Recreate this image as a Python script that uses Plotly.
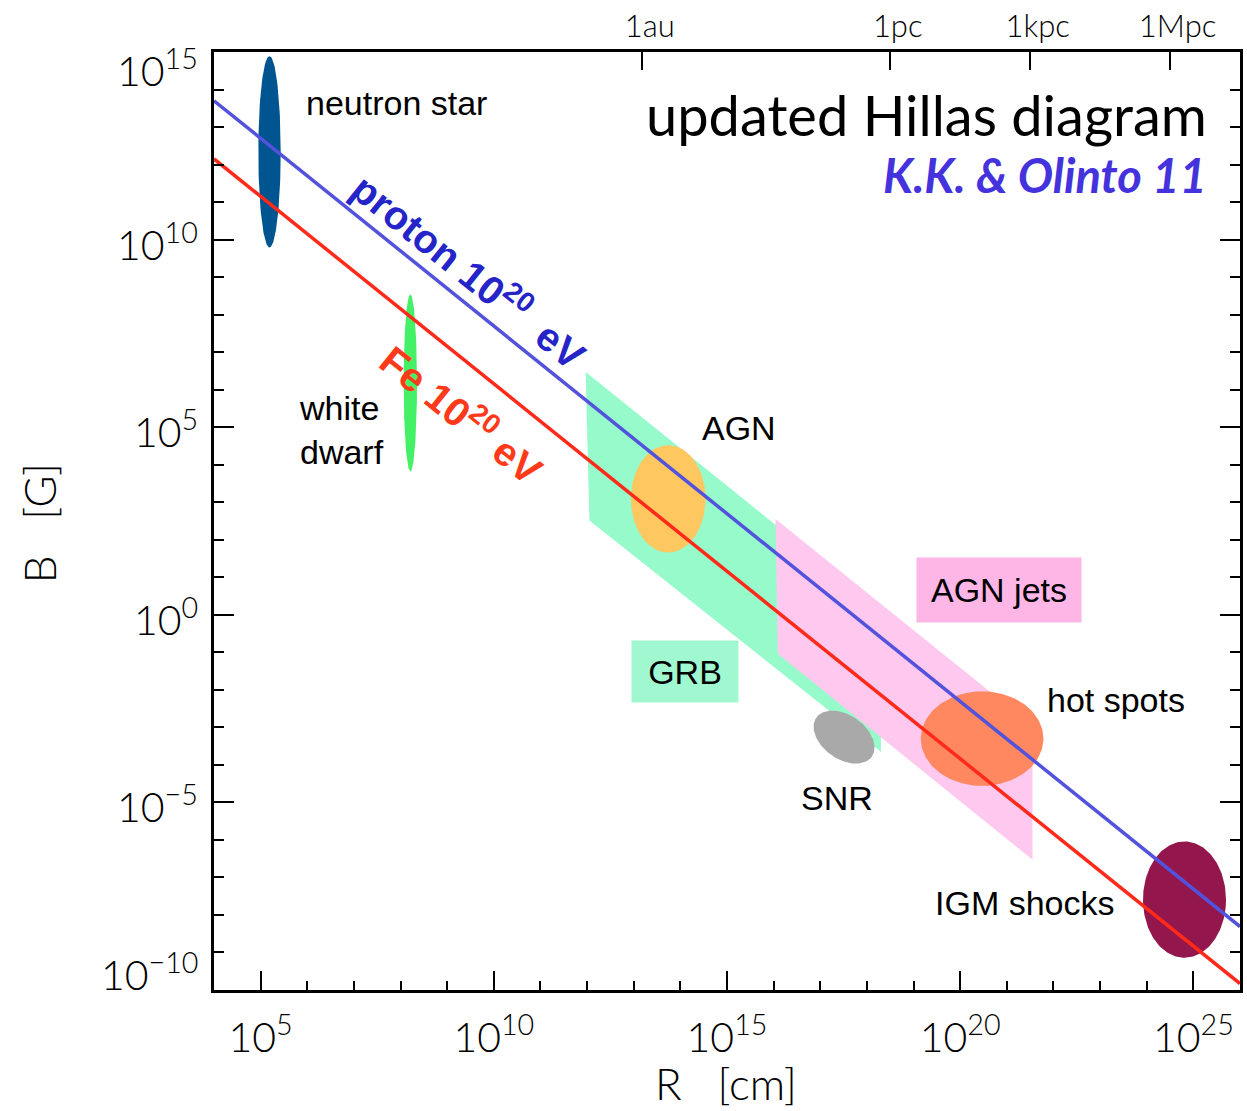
import numpy as np
import plotly.graph_objects as go

# ---------------- data (log10 values) ----------------
# x axis: R [cm], y axis: B [G]
x_tick_exp = [5, 10, 15, 20, 25]
y_tick_exp = [15, 10, 5, 0, -5, -10]
minor_exp_x = list(range(4, 27))
minor_exp_y = list(range(-10, 16))

# top axis: length units in cm
unit_labels = ["1au", "1pc", "1kpc", "1Mpc"]
unit_cm = [1.496e13, 3.086e18, 3.086e21, 3.086e24]

# Hillas lines (endpoints, log10)
line_logR = [4.0, 26.0]
proton_logB = [13.70, -8.31]
fe_logB = [12.15, -9.83]

# elliptical source regions: centre and half-extent (decades)
ell_names = ["neutron star", "white dwarf", "AGN", "hot spots", "IGM shocks"]
ell_logR = [5.19, 8.21, 13.74, 20.47, 24.81]
ell_logB = [12.34, 6.18, 3.09, -3.30, -7.59]
ell_dR = [0.24, 0.143, 0.80, 1.315, 0.89]
ell_dB = [2.55, 2.36, 1.43, 1.26, 1.55]

# SNR: tilted ellipse, centre + two semi-axis vectors (decades)
snr_centre = [17.51, -3.26]
snr_major = [0.595, -0.520]
snr_minor = [0.270, 0.480]

# band regions (parallelograms), log10 corners
grb_logR = [11.97, 12.05, 18.30, 18.30]
grb_logB = [6.47, 2.51, -3.65, 0.14]
jets_logR = [16.04, 16.09, 21.55, 21.55]
jets_logB = [2.55, -1.04, -6.53, -2.96]

# ---------------- styles ----------------
ell_colors = {
    "neutron star": "#00548F",
    "white dwarf": "#44F065",
    "AGN": "#FFC760",
    "hot spots": "#FF8860",
    "IGM shocks": "#93174C",
}
snr_color = "#A9A9A9"
grb_color = "#96FACA"
jets_color = "#FFC8EE"
blue = "#5252DD"
red = "#FF2A1A"
LABEL_FONT = "Liberation Sans, Arial, sans-serif"
AXIS_FONT = "Lato, Noto Sans, sans-serif"

fig = go.Figure()

def pow10(a):
    return [10.0 ** v for v in a]

# band regions
fig.add_trace(go.Scatter(x=pow10(grb_logR), y=pow10(grb_logB), fill="toself",
                         fillcolor=grb_color, line=dict(width=0), mode="lines",
                         hoverinfo="skip", showlegend=False))
fig.add_trace(go.Scatter(x=pow10(jets_logR), y=pow10(jets_logB), fill="toself",
                         fillcolor=jets_color, line=dict(width=0), mode="lines",
                         hoverinfo="skip", showlegend=False))

# ellipses
t = np.linspace(0, 2 * np.pi, 181)
for name, xc, yc, dx, dy in zip(ell_names, ell_logR, ell_logB, ell_dR, ell_dB):
    xs = 10.0 ** (xc + dx * np.cos(t))
    ys = 10.0 ** (yc + dy * np.sin(t))
    fig.add_trace(go.Scatter(x=xs, y=ys, fill="toself", fillcolor=ell_colors[name],
                             line=dict(width=0), mode="lines", name=name,
                             hoverinfo="skip", showlegend=False))

xs = 10.0 ** (snr_centre[0] + snr_major[0] * np.cos(t) + snr_minor[0] * np.sin(t))
ys = 10.0 ** (snr_centre[1] + snr_major[1] * np.cos(t) + snr_minor[1] * np.sin(t))
fig.add_trace(go.Scatter(x=xs, y=ys, fill="toself", fillcolor=snr_color,
                         line=dict(width=0), mode="lines", name="SNR",
                         hoverinfo="skip", showlegend=False))

# Hillas lines
fig.add_trace(go.Scatter(x=pow10(line_logR), y=pow10(proton_logB), mode="lines",
                         line=dict(color=blue, width=3.5), showlegend=False, hoverinfo="skip"))
fig.add_trace(go.Scatter(x=pow10(line_logR), y=pow10(fe_logB), mode="lines",
                         line=dict(color=red, width=3.5), showlegend=False, hoverinfo="skip"))

# dummy trace so the top axis is drawn
fig.add_trace(go.Scatter(x=[1e10], y=[1.0], xaxis="x2", mode="markers",
                         marker=dict(opacity=0), showlegend=False, hoverinfo="skip"))

def sup_label(e):
    return "10<sup>%d</sup>" % e if e >= 0 else "10<sup>\u2212%d</sup>" % (-e)

TICK_SIZE = 41

fig.update_layout(
    width=1247, height=1111,
    margin=dict(l=214, r=4, t=52, b=121),
    paper_bgcolor="white", plot_bgcolor="white",
    xaxis=dict(
        type="log", range=[4, 26], showline=True, linecolor="black", linewidth=2.5,
        mirror=True, ticks="inside", ticklen=19, tickwidth=2, tickcolor="black",
        tickmode="array", tickvals=pow10(x_tick_exp),
        ticktext=[sup_label(e) for e in x_tick_exp],
        tickfont=dict(family=AXIS_FONT, size=TICK_SIZE, color="black", weight=300),
        ticklabelstandoff=10,
        showgrid=False, zeroline=False,
        minor=dict(tickmode="array", tickvals=pow10(minor_exp_x), ticks="inside",
                   ticklen=9, tickwidth=2, tickcolor="black", showgrid=False),
    ),
    xaxis2=dict(
        type="log", range=[4, 26], overlaying="x", side="top", anchor="y",
        tickmode="array", tickvals=unit_cm, ticktext=unit_labels,
        ticks="inside", ticklen=18, tickwidth=2, tickcolor="black",
        tickfont=dict(family=AXIS_FONT, size=31, color="black", weight=300),
        ticklabelstandoff=8, ticklabelshift=8,
        showline=False, showgrid=False, zeroline=False,
    ),
    yaxis=dict(
        type="log", range=[-10, 15], showline=True, linecolor="black", linewidth=2.5,
        mirror="ticks", ticks="inside", ticklen=20, tickwidth=2, tickcolor="black",
        tickmode="array", tickvals=pow10(y_tick_exp), showticklabels=False,
        showgrid=False, zeroline=False,
        minor=dict(tickmode="array", tickvals=pow10(minor_exp_y), ticks="inside",
                   ticklen=10, tickwidth=2, tickcolor="black", showgrid=False),
    ),
)

ann = []
# y tick labels (kept as annotations to match the original placement)
for e in y_tick_exp:
    shift = -2
    if e == y_tick_exp[0]:
        shift = -16
    if e == y_tick_exp[-1]:
        shift = 18
    ann.append(dict(xref="paper", yref="y", x=0, y=e, xanchor="right", yanchor="middle",
                    xshift=-14, yshift=shift, text=sup_label(e), showarrow=False,
                    font=dict(family=AXIS_FONT, size=TICK_SIZE, color="black", weight=300)))

# axis titles
ann.append(dict(xref="paper", yref="paper", x=0.4995, y=-0.099,
                text="R\u00a0\u00a0\u00a0[cm]",
                showarrow=False, xanchor="center", yanchor="middle",
                font=dict(family=AXIS_FONT, size=44, color="black", weight=300)))
ann.append(dict(xref="paper", yref="paper", x=-0.171, y=0.497,
                text="B\u00a0\u00a0\u00a0[G]",
                showarrow=False, xanchor="center", yanchor="middle", textangle=-90,
                font=dict(family=AXIS_FONT, size=44, color="black", weight=300)))

# title texts
ann.append(dict(xref="paper", yref="paper", x=0.9695, y=0.933, xanchor="right", yanchor="middle",
                text="updated Hillas diagram", showarrow=False,
                font=dict(family="Lato, sans-serif", size=56, color="black")))
ann.append(dict(xref="paper", yref="paper", x=0.9695, y=0.869, xanchor="right", yanchor="middle",
                text="<b><i>K.K. &amp; Olinto 11</i></b>", showarrow=False,
                font=dict(family="Lato, sans-serif", size=47, color="#4433DD")))

lab = dict(family=LABEL_FONT, size=34, color="black")
ann += [
    dict(x=5.92, y=13.63, text="neutron star", xanchor="left", font=lab),
    dict(x=5.77, y=4.92, text="white<br>dwarf", xanchor="left", align="left", font=lab),
    dict(x=15.25, y=4.99, text="AGN", xanchor="center", font=lab),
    dict(x=21.81, y=-2.27, text="hot spots", xanchor="left", font=lab),
    dict(x=17.36, y=-4.88, text="SNR", xanchor="center", font=lab),
    dict(x=23.35, y=-7.67, text="IGM shocks", xanchor="right", font=lab),
    dict(x=14.11, y=-1.51, text="GRB", xanchor="center", font=lab,
         bgcolor="#A0F8D0", width=106, height=61, borderpad=0),
    dict(x=20.83, y=0.667, text="AGN jets", xanchor="center", font=lab,
         bgcolor="#FDB6E6", width=164, height=64, borderpad=0),
    dict(x=9.50, y=9.2, text="<b>proton 10<sup>20</sup>\u00a0\u00a0eV</b>", textangle=38.7,
         xanchor="center", font=dict(family=LABEL_FONT, size=40, color="#2424C8")),
    dict(x=9.33, y=5.38, text="<b>Fe 10<sup>20</sup>\u00a0eV</b>", textangle=38.7,
         xanchor="center", font=dict(family=LABEL_FONT, size=40, color="#FF3A1A")),
]
for a in ann[-10:]:
    a.setdefault("xref", "x")
    a.setdefault("yref", "y")
    a["showarrow"] = False
    a.setdefault("yanchor", "middle")

fig.update_layout(annotations=ann)
fig.write_html("out.html")
